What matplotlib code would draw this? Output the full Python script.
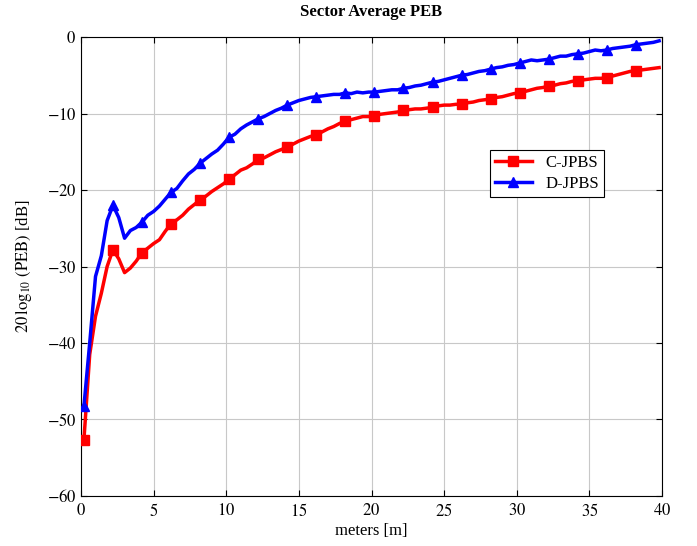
import numpy as np
import matplotlib
matplotlib.use('Agg')
import matplotlib.pyplot as plt

plt.rcParams['font.family'] = ['Liberation Serif', 'DejaVu Serif']
plt.rcParams['mathtext.fontset'] = 'stix'

# distance samples (every 0.4 m, markers every 2 m)
meters = [round(0.2 + 0.4 * k, 1) for k in range(100)]

c_jpbs = [-52.7, -41.5, -36.5, -33.5, -30.0, -27.8, -29.0, -30.8, -30.2, -29.3,
          -28.2, -27.6, -27.0, -26.5, -25.4, -24.4, -23.9, -23.3, -22.5, -21.9,
          -21.3, -20.8, -20.2, -19.7, -19.2, -18.6, -18.0, -17.4, -17.1, -16.6,
          -16.0, -15.8, -15.4, -15.0, -14.7, -14.4, -14.0, -13.6, -13.3, -13.0,
          -12.8, -12.4, -12.0, -11.7, -11.3, -11.0, -10.8, -10.6, -10.4, -10.4,
          -10.3, -10.1, -10.0, -9.9, -9.8, -9.6, -9.5, -9.4, -9.4, -9.3,
          -9.2, -9.0, -8.9, -8.9, -8.8, -8.8, -8.6, -8.5, -8.3, -8.2,
          -8.1, -7.9, -7.8, -7.6, -7.4, -7.3, -7.1, -6.9, -6.7, -6.6,
          -6.4, -6.3, -6.1, -6.0, -5.8, -5.7, -5.6, -5.5, -5.4, -5.4,
          -5.3, -5.1, -4.9, -4.7, -4.5, -4.4, -4.3, -4.2, -4.1, -4.0]

d_jpbs = [-48.3, -40.0, -31.3, -28.6, -24.0, -22.0, -23.6, -26.3, -25.3, -24.9,
          -24.2, -23.3, -22.8, -22.1, -21.2, -20.3, -19.8, -18.8, -17.9, -17.3,
          -16.5, -15.9, -15.3, -14.8, -14.0, -13.1, -12.7, -12.0, -11.5, -11.1,
          -10.7, -10.4, -10.0, -9.6, -9.3, -8.9, -8.6, -8.3, -8.1, -7.9,
          -7.8, -7.7, -7.6, -7.5, -7.5, -7.3, -7.4, -7.2, -7.3, -7.2,
          -7.2, -7.1, -7.0, -6.9, -6.9, -6.7, -6.6, -6.4, -6.3, -6.1,
          -5.9, -5.8, -5.6, -5.4, -5.2, -5.0, -4.9, -4.7, -4.5, -4.4,
          -4.2, -4.0, -3.9, -3.7, -3.6, -3.4, -3.2, -3.0, -3.1, -3.0,
          -2.9, -2.7, -2.5, -2.5, -2.3, -2.2, -2.1, -1.9, -1.7, -1.8,
          -1.7, -1.5, -1.4, -1.3, -1.2, -1.0, -0.9, -0.8, -0.7, -0.5]

fig = plt.figure(figsize=(6.97, 5.46), dpi=100)
ax = fig.add_axes([0.1162, 0.0916, 0.8336, 0.8406])

ax.plot(meters, c_jpbs, color='red', lw=2.5, marker='s', ms=7, markevery=5,
        label='C-JPBS', zorder=3)
ax.plot(meters, d_jpbs, color='blue', lw=2.5, marker='^', ms=7, markevery=5,
        label='D-JPBS', zorder=3)

ax.set_xlim(0, 40)
ax.set_ylim(-60, 0)
ax.set_xticks(range(0, 41, 5))
ax.set_yticks(range(-60, 1, 10))
ax.set_yticklabels(['$-60$', '$-50$', '$-40$', '$-30$', '$-20$', '$-10$', '$0$'])
ax.set_xticklabels(['$%d$' % v for v in range(0, 41, 5)])
ax.grid(True, color='#c8c8c8', lw=0.8)
ax.set_axisbelow(True)
ax.tick_params(direction='in', top=True, right=True, labelsize=12, length=4)
ax.tick_params(axis='x', pad=5)
for s in ax.spines.values():
    s.set_linewidth(0.8)

ax.set_xlabel('meters [m]', fontsize=12, labelpad=2)
ax.set_ylabel(r'$20\,\log_{10}\,(\mathrm{PEB})$ [dB]', fontsize=12, labelpad=9)
ax.set_title('Sector Average PEB', fontsize=12, fontweight='bold', pad=15)

leg = ax.legend(loc='upper left', bbox_to_anchor=(0.704, 0.754), fontsize=12,
                fancybox=False, edgecolor='black', framealpha=1,
                borderpad=0.3, handlelength=2.2, labelspacing=0.3,
                borderaxespad=0)
leg.get_frame().set_linewidth(0.8)

plt.savefig('out.png', dpi=100)
